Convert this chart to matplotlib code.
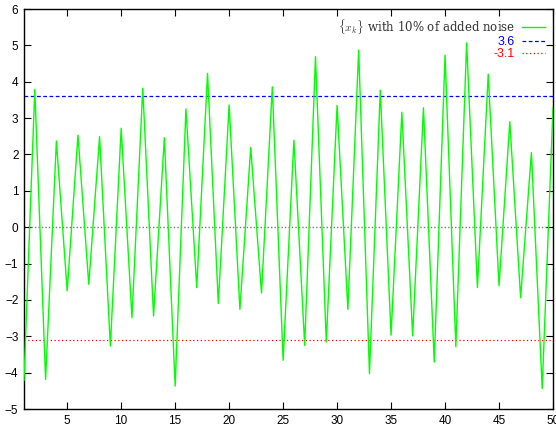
import matplotlib
matplotlib.use("Agg")
import matplotlib.pyplot as plt
import numpy as np

plt.rcParams['mathtext.fontset'] = 'cm'

x_vals = list(range(1, 51))
y_vals = [-4.21, 3.79, -4.19, 2.37, -1.75, 2.53, -1.57, 2.49, -3.27, 2.72,
          -2.49, 3.82, -2.44, 2.46, -4.37, 3.25, -1.66, 4.23, -2.10, 3.36,
          -2.26, 2.19, -1.81, 3.86, -3.66, 2.39, -3.25, 4.69, -3.16, 3.35,
          -2.26, 4.87, -4.03, 3.77, -2.97, 3.16, -2.99, 3.28, -3.71, 4.73,
          -3.29, 5.07, -1.66, 4.21, -1.61, 2.90, -1.94, 2.05, -4.44, 3.29]
upper_level = 3.6
lower_level = -3.1
x_ticks = [5, 10, 15, 20, 25, 30, 35, 40, 45, 50]
y_ticks = [-5, -4, -3, -2, -1, 0, 1, 2, 3, 4, 5, 6]

fig = plt.figure(figsize=(5.56, 4.29), dpi=100)
ax = fig.add_axes([24/556, 20/429, 529/556, 400/429])

ax.axhline(0, color='#777777', lw=1, ls=(0, (1, 1.5)), zorder=1)
l1, = ax.plot(x_vals, y_vals, color='#00ff00', lw=1,
              label=r'$\{x_k\}$ with 10% of added noise', zorder=3)
l2 = ax.axhline(upper_level, color='#0000ff', lw=0.9, ls=(0, (3, 2)), label='3.6', zorder=2)
l3 = ax.axhline(lower_level, color='#ff0000', lw=0.9, ls=(0, (1, 2)), label='-3.1', zorder=2)

ax.set_xlim(1, 50)
ax.set_ylim(-5, 6)
ax.set_xticks(x_ticks)
ax.set_yticks(y_ticks)
ax.tick_params(direction='in', top=True, right=True, length=5, width=0.8,
               labelsize=8.5, pad=4)
for lab in ax.get_xticklabels() + ax.get_yticklabels():
    lab.set_fontfamily('Liberation Sans')
for s in ax.spines.values():
    s.set_linewidth(1)

leg = ax.legend(handles=[l1, l2, l3], loc='upper right', frameon=False,
                markerfirst=False, handlelength=2.0, handletextpad=0.65,
                labelspacing=0.0, borderaxespad=0.35, fontsize=8)
texts = leg.get_texts()
texts[0].set_fontfamily('DejaVu Serif')
texts[0].set_fontsize(8.5)
texts[0].set_color('#333333')
texts[1].set_color('#0000ff')
texts[1].set_fontfamily('Liberation Sans')
texts[1].set_fontsize(9)
texts[2].set_color('#ff0000')
texts[2].set_fontfamily('Liberation Sans')
texts[2].set_fontsize(9)
for t in texts:
    t.set_horizontalalignment('right')
leg._legend_box.align = 'right'

fig.savefig('out.png', dpi=100)
